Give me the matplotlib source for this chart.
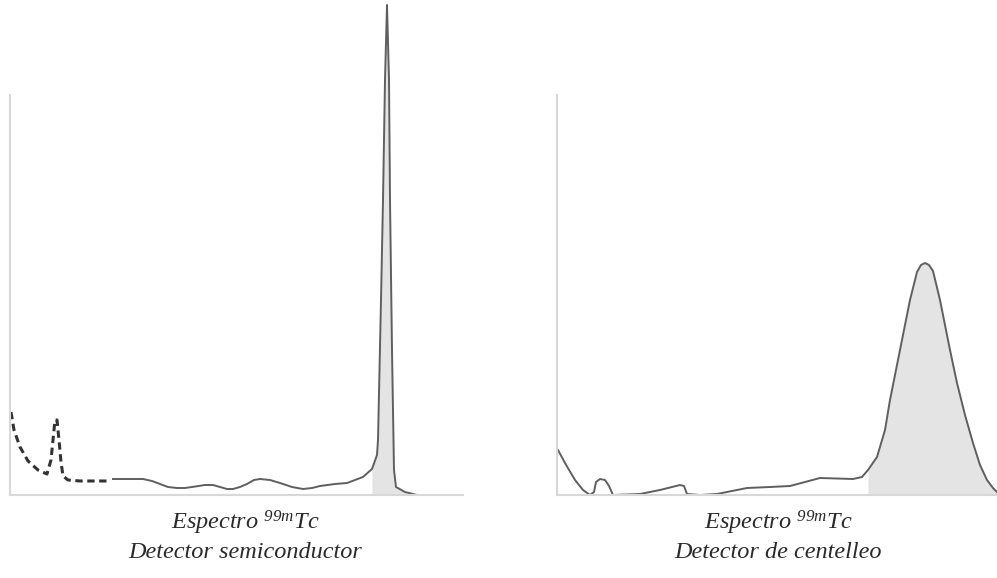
import matplotlib
matplotlib.use('Agg')
import matplotlib.pyplot as plt

plt.rcParams['font.family'] = 'Liberation Serif'
plt.rcParams['mathtext.fontset'] = 'custom'
plt.rcParams['mathtext.it'] = 'Liberation Serif:italic'
plt.rcParams['mathtext.rm'] = 'Liberation Serif:italic'

# Semiconductor detector: dashed low-energy part (channel, counts)
semi_dash_ch = [1, 4, 10, 18, 28, 37, 41, 43, 45, 47, 49, 51, 53, 58, 70, 98]
semi_dash_ct = [83, 65, 48, 34, 25, 21, 35, 55, 75, 75, 55, 33, 19, 15, 14, 14]

# Semiconductor detector: solid part with the photopeak
semi_ch = [103, 133, 142, 150, 158, 167, 175, 182, 195, 203, 210, 217, 223, 230,
           237, 244, 250, 260, 270, 282, 293, 302, 310, 325, 337,
           353, 362, 367, 368, 371, 373, 375, 377, 379, 380, 382, 384, 386, 395, 407]
semi_ct = [16, 16, 14, 11, 8, 7, 7, 8, 10, 10, 8, 6, 6, 8,
           11, 15, 16, 15, 12, 8, 6, 7, 9, 11, 12,
           18, 26, 40, 55, 195, 295, 415, 490, 415, 295, 145, 25, 8, 3, 0]

# Scintillation detector
scint_ch = [1, 8, 18, 26, 33, 37, 39, 43, 48, 52, 56, 83, 103, 123, 127, 130,
            143, 160, 190, 213, 233, 248, 263, 296, 305, 311, 320, 328, 333,
            343, 353, 360, 364, 368, 372, 376, 383, 393, 400, 408, 416, 423,
            430, 436, 440]
scint_ct = [45, 32, 15, 5, 0, 3, 13, 16, 15, 9, 0, 1, 5, 10, 9, 1,
            0, 1, 7, 8, 9, 13, 17, 16, 18, 25, 38, 65, 95,
            145, 195, 223, 230, 232, 230, 224, 195, 145, 112, 80, 52, 30,
            15, 7, 3]

semi_peak_start = 355
scint_peak_start = 311

title_top = 'Espectro $^{99m}$Tc'
titles_bottom = ['Detector semiconductor', 'Detector de centelleo']

fig = plt.figure(figsize=(9.97, 5.78), dpi=100)
W, H = 997, 578
y_bot = (H - 495) / H

ax1 = fig.add_axes([10 / W, y_bot, 453 / W, 1 - y_bot])
ax2 = fig.add_axes([557 / W, y_bot, 440 / W, 1 - y_bot])

line_col = '#5f5f5f'
fill_col = '#e4e4e4'
axis_col = '#d8d8d8'

# left panel
ax1.plot(semi_dash_ch, semi_dash_ct, color='#333333', lw=2.2, ls=(0, (2.4, 1.5)))
ax1.plot(semi_ch, semi_ct, color=line_col, lw=1.4)
pk = [(c, v) for c, v in zip(semi_ch, semi_ct) if c >= semi_peak_start]
ax1.fill_between([p[0] for p in pk], [p[1] for p in pk], color=fill_col, lw=0)
ax1.set_xlim(0, 453)

# right panel
ax2.plot(scint_ch, scint_ct, color=line_col, lw=1.4)
pk = [(c, v) for c, v in zip(scint_ch, scint_ct) if c >= scint_peak_start]
ax2.fill_between([p[0] for p in pk], [p[1] for p in pk], color=fill_col, lw=0)
ax2.set_xlim(0, 440)

for ax in (ax1, ax2):
    ax.set_ylim(0, 495)
    ax.set_xticks([])
    ax.set_yticks([])
    ax.patch.set_alpha(0)
    for s in ('top', 'right'):
        ax.spines[s].set_visible(False)
    ax.spines['left'].set_bounds(0, 400)
    ax.spines['left'].set_color(axis_col)
    ax.spines['bottom'].set_color(axis_col)
    ax.spines['left'].set_linewidth(1.5)
    ax.spines['bottom'].set_linewidth(1.5)

for cx, sub in zip([245, 778], titles_bottom):
    fig.text(cx / W, 1 - 523 / H, title_top, ha='center', va='center',
             fontsize=17.5, style='italic', color='#2a2a2a')
    fig.text(cx / W, 1 - 553 / H, sub, ha='center', va='center',
             fontsize=17.5, style='italic', color='#2a2a2a')

fig.savefig('out.png', dpi=100)
